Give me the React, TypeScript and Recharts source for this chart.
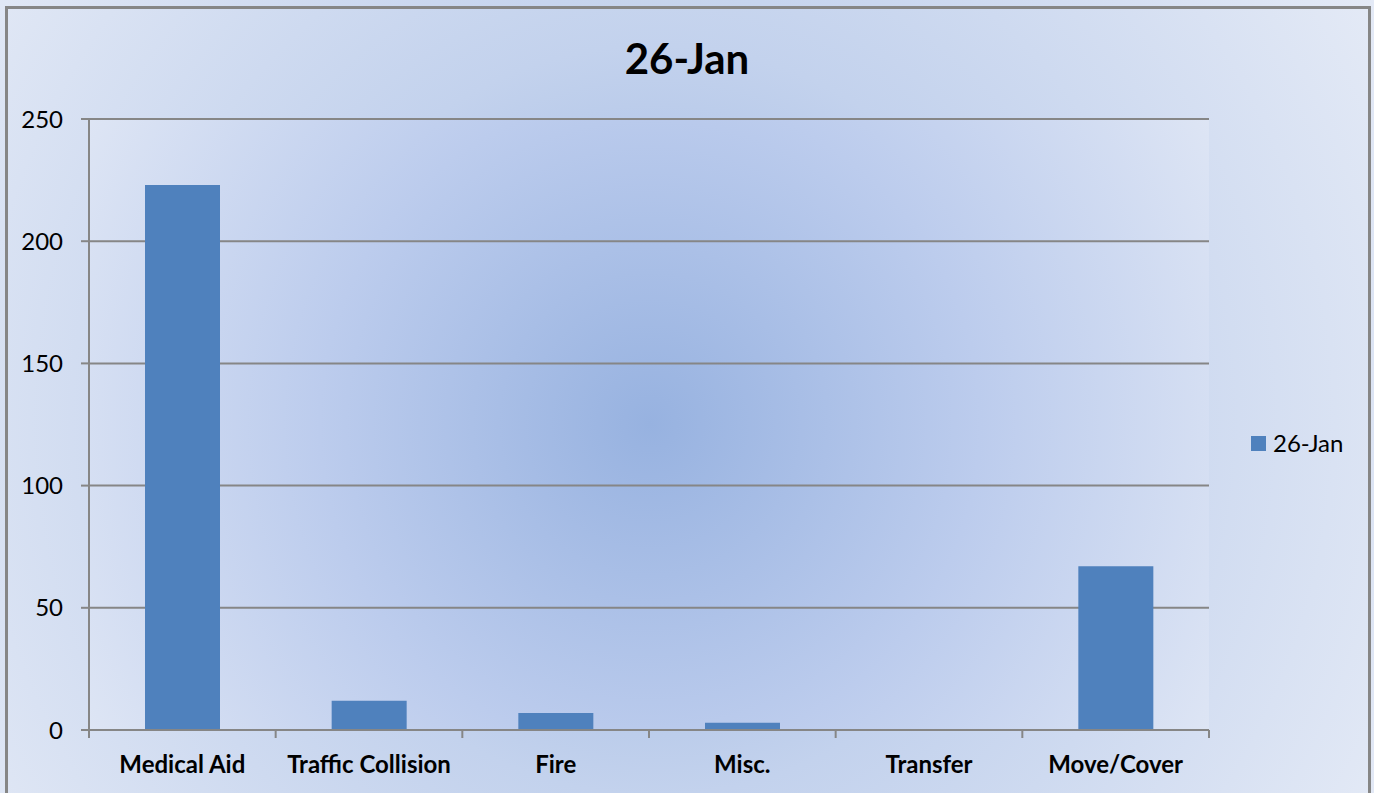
import { BarChart, Bar, XAxis, YAxis, CartesianGrid, Legend } from 'recharts';

const categories = ['Medical Aid', 'Traffic Collision', 'Fire', 'Misc.', 'Transfer', 'Move/Cover'];
const counts = [223, 12, 7, 3, 0, 67];
const yTicks = [0, 50, 100, 150, 200, 250];
const seriesName = '26-Jan';

const FONT = 'Lato, "Open Sans", sans-serif';
const GRAY = '#868686';
const BAR = '#4f81bd';
const X_TICK = 8;
const X_MARGIN = 18;

const data = categories.map((name, i) => ({ name, value: counts[i] }));

// x ticks sit on category boundaries, labels in the middle
function CategoryTick(props: any) {
  const { x, y, payload, index, visibleTicksCount } = props;
  const half = payload?.offset ?? 0;
  const top = y - X_TICK - X_MARGIN;
  return (
    <g>
      <line x1={x - half} x2={x - half} y1={top} y2={top + X_TICK} stroke={GRAY} strokeWidth={2} />
      {index === visibleTicksCount - 1 && (
        <line x1={x + half} x2={x + half} y1={top} y2={top + X_TICK} stroke={GRAY} strokeWidth={2} />
      )}
      <text x={x} y={y} dy="0.71em" textAnchor="middle" fontFamily={FONT} fontSize={24} fontWeight={700} fill="#000">
        {payload.value}
      </text>
    </g>
  );
}

function LegendBox({ payload }: any) {
  return (
    <div style={{ display: 'flex', flexDirection: 'column', fontFamily: FONT, fontSize: 24, color: '#000' }}>
      {(payload || []).map((p: any) => (
        <div key={p.value} style={{ display: 'flex', alignItems: 'center', lineHeight: '28px' }}>
          <span style={{ display: 'inline-block', width: 15, height: 15, background: p.color, marginRight: 7 }} />
          <span>{p.value}</span>
        </div>
      ))}
    </div>
  );
}

export default function App() {
  return (
    <div
      style={{
        position: 'absolute',
        left: 0,
        top: 0,
        width: 1374,
        height: 793,
        overflow: 'hidden',
        background: 'radial-gradient(circle farthest-corner at 655px 420px, #97b2e0 0%, #c3d2ed 45%, #e4eaf6 100%)',
        fontFamily: FONT,
      }}
    >
      <div
        style={{
          position: 'absolute',
          left: 5,
          top: 6,
          width: 1366,
          height: 810,
          boxSizing: 'border-box',
          border: `3px solid ${GRAY}`,
        }}
      />
      <div
        style={{
          position: 'absolute',
          left: 0,
          top: 33,
          width: 1374,
          textAlign: 'center',
          fontSize: 42,
          fontWeight: 700,
          lineHeight: '50px',
          color: '#000',
        }}
      >
        {seriesName}
      </div>
      <BarChart
        width={1374}
        height={793}
        data={data}
        margin={{ top: 119, right: 165, bottom: 0, left: 0 }}
        barCategoryGap="30%"
        style={{ position: 'absolute', left: 0, top: 0 }}
      >
        <defs>
          <radialGradient id="plotBg" gradientUnits="userSpaceOnUse" cx={650} cy={424} r={660}>
            <stop offset="0%" stopColor="#97b2e0" />
            <stop offset="50%" stopColor="#bccced" />
            <stop offset="100%" stopColor="#e0e7f5" />
          </radialGradient>
        </defs>
        <CartesianGrid vertical={false} stroke={GRAY} strokeWidth={2} fill="url(#plotBg)" strokeOpacity={1} />
        <XAxis
          dataKey="name"
          height={63}
          tickLine={false}
          tickSize={X_TICK}
          tickMargin={X_MARGIN}
          axisLine={{ stroke: GRAY, strokeWidth: 2 }}
          tick={<CategoryTick />}
          interval={0}
        />
        <YAxis
          width={89}
          domain={[0, 250]}
          ticks={yTicks}
          tickSize={8}
          tickMargin={18}
          axisLine={{ stroke: GRAY, strokeWidth: 2 }}
          tickLine={{ stroke: GRAY, strokeWidth: 2 }}
          tick={{ fontFamily: FONT, fontSize: 24, fill: '#000' }}
        />
        <Legend
          layout="horizontal"
          verticalAlign="middle"
          align="center"
          content={<LegendBox />}
          wrapperStyle={{ left: 1251, top: 429, width: 110 }}
        />
        <Bar dataKey="value" name={seriesName} fill={BAR} isAnimationActive={false} />
      </BarChart>
    </div>
  );
}
